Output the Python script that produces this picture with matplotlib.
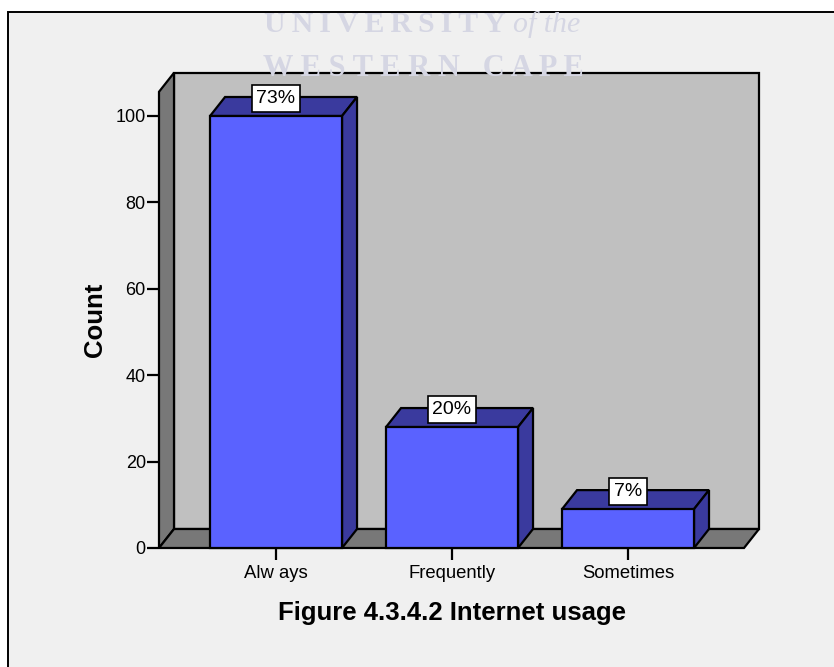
import matplotlib
matplotlib.use("Agg")
import matplotlib.pyplot as plt
from matplotlib.patches import Polygon, Rectangle

categories = ["Alw ays", "Frequently", "Sometimes"]
counts = [100, 28, 9]
percents = ["73%", "20%", "7%"]
y_ticks = [0, 20, 40, 60, 80, 100]

W, H = 834, 667
plt.rcParams["font.family"] = ["Liberation Sans", "DejaVu Sans"]

fig = plt.figure(figsize=(W / 100, H / 100), dpi=100, facecolor="white")

# grey panel with black frame, runs off the right and bottom edge
fig.patches.append(Rectangle((8 / W, -0.01), 1, 1 - 12 / H + 0.01, transform=fig.transFigure,
                             facecolor="#f0f0f0", edgecolor="black", linewidth=1.4, zorder=-1))

# axes = front plane of the 3d box
ax = fig.add_axes([159 / W, (H - 548) / H, 585 / W, 432 / H])
ax.set_xlim(-0.665, 2.659)
ax.set_ylim(0, 100)
ax.patch.set_visible(False)
for s in ax.spines.values():
    s.set_visible(False)

# depth of the box, in data units
dx = 15 / 176
dy = 19 / 4.32
x0, x1 = ax.get_xlim()
wall_top = 110  # back wall ends above the 100 tick

line = dict(edgecolor="black", linewidth=1.6, joinstyle="miter", clip_on=False)

# back wall, left wall, floor
ax.add_patch(Polygon([(x0 + dx, dy), (x1 + dx, dy), (x1 + dx, wall_top), (x0 + dx, wall_top)],
                     facecolor="#c0c0c0", **line))
ax.add_patch(Polygon([(x0, 0), (x0 + dx, dy), (x0 + dx, wall_top), (x0, wall_top - dy)],
                     facecolor="#787878", **line))
ax.add_patch(Polygon([(x0, 0), (x1, 0), (x1 + dx, dy), (x0 + dx, dy)], facecolor="#787878", **line))

# bars: top and side faces, then front
w = 0.75
for i, c in enumerate(counts):
    l, r = i - w / 2, i + w / 2
    ax.add_patch(Polygon([(l, c), (r, c), (r + dx, c + dy), (l + dx, c + dy)], facecolor="#3a3a9e", zorder=3, **line))
    ax.add_patch(Polygon([(r, 0), (r + dx, dy), (r + dx, c + dy), (r, c)], facecolor="#3a3a9e", zorder=3, **line))
    ax.bar(i, c, width=w, color="#5a62ff", edgecolor="black", linewidth=1.6, zorder=4, clip_on=False)
    ax.annotate(percents[i], (i, c), xytext=(0, 9), textcoords="offset pixels", ha="center", va="bottom",
                fontsize=14, color="black", zorder=3.5, annotation_clip=False,
                bbox=dict(boxstyle="square,pad=0.24", facecolor="white", edgecolor="black", linewidth=1.2))

ax.set_xticks(range(len(categories)))
ax.set_xticklabels(categories)
ax.set_yticks(y_ticks)
ax.tick_params(axis="y", length=8.5, width=1.6, labelsize=13, pad=1)
ax.tick_params(axis="x", length=8.5, width=1.6, labelsize=13.3, pad=4)
ax.set_ylabel("Count", fontsize=18.5, fontweight="bold", labelpad=6, y=0.528)

fig.text(452 / W, 1 - 613 / H, "Figure 4.3.4.2 Internet usage", fontsize=18.5, fontweight="bold",
         ha="center", va="center")

# faint watermark
wm = "#d5d6e3"
fig.text(264 / W, 1 - 24 / H, "\u2009".join("UNIVERSITY"), fontsize=21.5, fontweight="bold", family="Liberation Serif",
         color=wm, ha="left", va="center", zorder=10)
fig.text(513 / W, 1 - 25 / H, "of the", fontsize=21.5, style="italic", family="Liberation Serif",
         color=wm, ha="left", va="center", zorder=10)
fig.text(263 / W, 1 - 69 / H, " ".join("WESTERN") + "   " + " ".join("CAPE"), fontsize=22, fontweight="bold",
         family="Liberation Serif", color=wm, ha="left", va="center", zorder=10)

fig.savefig("out.png", dpi=100, facecolor=fig.get_facecolor())
